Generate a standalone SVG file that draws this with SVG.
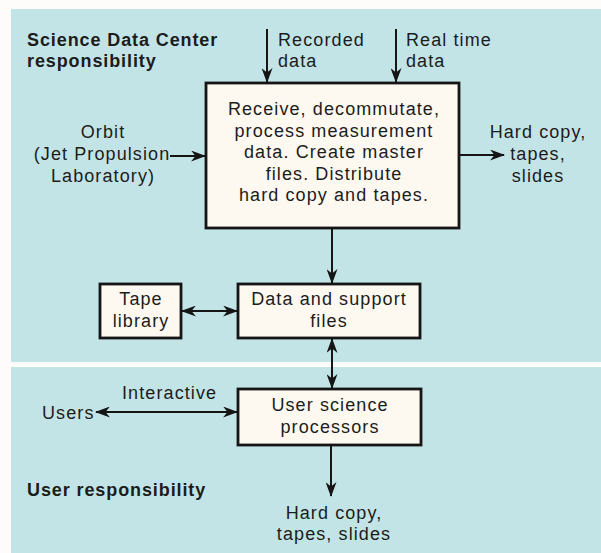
<svg xmlns="http://www.w3.org/2000/svg" width="601" height="553" viewBox="0 0 601 553">
<style>
.t{font-family:"Liberation Sans",Arial,sans-serif;font-size:18px;letter-spacing:1.1px;fill:#1c1c1c}
.m{text-anchor:middle}
.b{font-weight:bold;letter-spacing:0.9px}
.box{fill:#fdf9f1;stroke:#151515;stroke-width:2.8}
.ln{stroke:#151515;stroke-width:2;fill:none}
</style>
<defs>
<marker id="ah" viewBox="0 0 15 11" refX="14" refY="5.5" markerWidth="15" markerHeight="11" markerUnits="userSpaceOnUse" orient="auto-start-reverse">
<path d="M0,0 L15,5.5 L0,11 L4.5,5.5 z" fill="#151515"/>
</marker>
</defs>
<rect x="0" y="0" width="601" height="553" fill="#fdfcfa"/>
<rect x="11" y="9" width="590" height="353" fill="#c3e4e6"/>
<rect x="11" y="367" width="590" height="186" fill="#c3e4e6"/>

<g id="sdc-label">
<text class="t b" x="27" y="46">Science Data Center</text>
<text class="t b" x="27" y="67">responsibility</text>
</g>
<g id="user-label">
<text class="t b" x="27" y="496">User responsibility</text>
</g>

<g id="recorded">
<text class="t" x="278" y="46">Recorded</text>
<text class="t" x="278" y="67">data</text>
</g>
<g id="realtime">
<text class="t" x="406" y="46">Real time</text>
<text class="t" x="406" y="67">data</text>
</g>
<g id="orbit">
<text class="t m" x="103" y="138">Orbit</text>
<text class="t m" x="102" y="160">(Jet Propulsion</text>
<text class="t m" x="103" y="182">Laboratory)</text>
</g>
<g id="hardcopy1">
<text class="t m" x="538" y="138">Hard copy,</text>
<text class="t m" x="538" y="160">tapes,</text>
<text class="t m" x="538" y="182">slides</text>
</g>

<g id="main">
<rect class="box" x="206" y="83" width="253" height="145"/>
<text class="t m" x="334" y="115">Receive, decommutate,</text>
<text class="t m" x="334" y="136.5">process measurement</text>
<text class="t m" x="334" y="158">data. Create master</text>
<text class="t m" x="334" y="179.5">files. Distribute</text>
<text class="t m" x="334" y="201">hard copy and tapes.</text>
</g>

<g id="tape">
<rect class="box" x="100" y="284" width="81" height="54"/>
<text class="t m" x="141" y="305">Tape</text>
<text class="t m" x="141" y="327">library</text>
</g>

<g id="datafiles">
<rect class="box" x="238" y="284" width="182" height="54"/>
<text class="t m" x="329" y="305">Data and support</text>
<text class="t m" x="329" y="327">files</text>
</g>

<g id="userproc">
<rect class="box" x="238" y="389" width="183" height="56"/>
<text class="t m" x="330" y="411">User science</text>
<text class="t m" x="330" y="433">processors</text>
</g>

<g id="users">
<text class="t" x="42" y="419">Users</text>
<text class="t" x="122" y="399">Interactive</text>
</g>

<g id="hardcopy2">
<text class="t m" x="334" y="519">Hard copy,</text>
<text class="t m" x="334" y="540">tapes, slides</text>
</g>

<g id="connectors">
<line class="ln" x1="267" y1="29" x2="267" y2="82" marker-end="url(#ah)"/>
<line class="ln" x1="396" y1="29" x2="396" y2="82" marker-end="url(#ah)"/>
<line class="ln" x1="170" y1="156" x2="205" y2="156" marker-end="url(#ah)"/>
<line class="ln" x1="460" y1="155" x2="504" y2="155" marker-end="url(#ah)"/>
<line class="ln" x1="332" y1="229" x2="332" y2="283" marker-end="url(#ah)"/>
<line class="ln" x1="182" y1="311" x2="237" y2="311" marker-start="url(#ah)" marker-end="url(#ah)"/>
<line class="ln" x1="332" y1="339" x2="332" y2="388" marker-start="url(#ah)" marker-end="url(#ah)"/>
<line class="ln" x1="96" y1="412" x2="237" y2="412" marker-start="url(#ah)" marker-end="url(#ah)"/>
<line class="ln" x1="331" y1="446" x2="331" y2="496" marker-end="url(#ah)"/>
</g>
</svg>
